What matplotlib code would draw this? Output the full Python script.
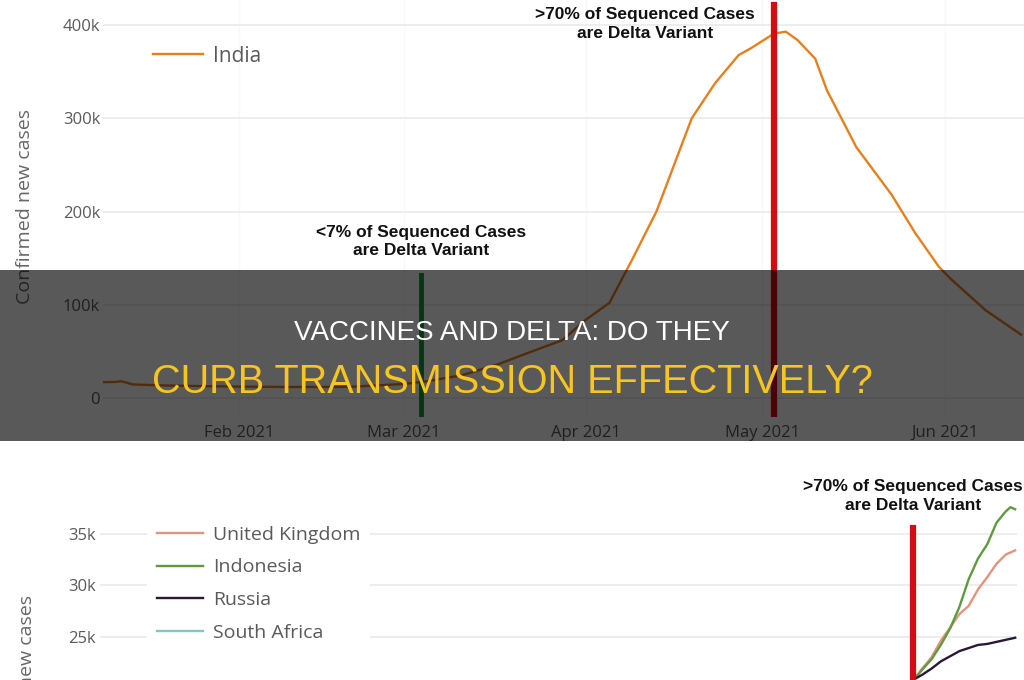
import matplotlib
matplotlib.use("Agg")
import matplotlib.pyplot as plt
import matplotlib.dates as mdates
from matplotlib.patches import Rectangle
import numpy as np

plt.rcParams['font.family'] = ['Open Sans', 'DejaVu Sans']

# India, confirmed new cases (7-day average)
india_dates = np.array([
    '2021-01-09', '2021-01-11', '2021-01-12', '2021-01-14', '2021-01-19',
    '2021-01-25', '2021-02-01', '2021-02-10', '2021-02-20', '2021-03-01',
    '2021-03-05', '2021-03-11', '2021-03-17', '2021-03-22', '2021-03-28',
    '2021-04-01', '2021-04-05', '2021-04-09', '2021-04-13', '2021-04-16',
    '2021-04-19', '2021-04-23', '2021-04-27', '2021-04-29', '2021-05-02',
    '2021-05-03', '2021-05-05', '2021-05-07', '2021-05-10', '2021-05-12',
    '2021-05-17', '2021-05-23', '2021-05-27', '2021-05-31', '2021-06-02',
    '2021-06-08', '2021-06-14'], dtype='datetime64[D]')
india_cases = [
    17000, 17200, 18000, 14500, 13500, 12800, 12200, 11800, 12000, 15000,
    18000, 24500, 36000, 48000, 62000, 84000, 102000, 150000, 200000, 250000,
    300000, 338000, 368000, 375000, 387000, 391000, 393000, 384000, 364000, 330000,
    269000, 218000, 177000, 141000, 128000, 94000, 68000]

low_delta_date = np.datetime64('2021-03-04')
high_delta_date = np.datetime64('2021-05-03')
month_ticks = np.array(['2021-02-01', '2021-03-01', '2021-04-01', '2021-05-01', '2021-06-01'],
                       dtype='datetime64[D]')

# second chart: days since delta passed 70% of sequenced cases
days = [0, 2, 4, 6, 8, 10, 12, 14, 16, 18, 20, 21, 22]
uk_cases = [20700, 21900, 23000, 24600, 25900, 27200, 28000, 29600, 30800, 32100, 33000, 33200, 33400]
indonesia_cases = [20700, 21800, 22800, 24200, 25800, 27900, 30600, 32600, 34000, 36100, 37200, 37600, 37400]
russia_cases = [20800, 21300, 21900, 22600, 23100, 23600, 23900, 24200, 24300, 24500, 24700, 24800, 24900]
south_africa_cases = []

W, H = 1024, 680


def px_rect(left, top, right, bottom):
    return [left / W, 1 - bottom / H, (right - left) / W, (bottom - top) / H]


fig = plt.figure(figsize=(W / 100, H / 100), dpi=100)
fig.patch.set_facecolor('white')

grey = '#5a5a5a'
note_font = dict(family=['Liberation Sans', 'DejaVu Sans'], weight='bold', fontsize=12.5,
                 color='#111111', ha='center', va='center', linespacing=1.3)

# ---- top chart: India
ax = fig.add_axes(px_rect(103, 0, 1024, 417))
feb1 = mdates.date2num(np.datetime64('2021-02-01'))
ax.set_xlim(feb1 - 23.1, feb1 + 133.5)
ax.set_ylim(-20400, 427000)

ax.plot(india_dates, india_cases, color='#e5801f', lw=1.7, label='India', zorder=3)
ax.axvline(low_delta_date, ymin=0, ymax=(132000 + 20400) / 447400, color='#139a3a', lw=3.5, zorder=4)
ax.axvline(high_delta_date, ymin=0, ymax=(422000 + 20400) / 447400, color='#d40d12', lw=4.5, zorder=4)

ax.text(low_delta_date, 168000, '<7% of Sequenced Cases\nare Delta Variant', **note_font)
ax.text(np.datetime64('2021-04-11'), 401000, '>70% of Sequenced Cases\nare Delta Variant', **note_font)

ax.set_yticks([0, 100000, 200000, 300000, 400000])
ax.set_yticklabels(['0', '100k', '200k', '300k', '400k'])
ax.set_xticks(month_ticks)
ax.xaxis.set_major_formatter(mdates.DateFormatter('%b %Y'))
ax.tick_params(length=0, labelsize=12, labelcolor=grey)
ax.tick_params(axis='y', pad=2)
ax.tick_params(axis='x', pad=6)
ax.grid(axis='y', color='#ececec', lw=1.3)
ax.grid(axis='x', color='#f8f8f8', lw=1)
ax.set_axisbelow(True)
for s in ax.spines.values():
    s.set_visible(False)

ax.legend(loc='center left', bbox_to_anchor=(143 / W, 1 - 56 / H), bbox_transform=fig.transFigure,
          frameon=False, fontsize=15, handlelength=2.4, handletextpad=0.45, borderpad=0,
          labelcolor=grey)
fig.text(25 / W, 1 - 206 / H, 'Confirmed new cases', rotation=90, ha='center', va='center',
         fontsize=14, color='#666666')

# ---- bottom chart: other countries
bx = fig.add_axes(px_rect(100, 500, 1017, 720))
bx.set_xlim(-175, 22.4)
bx.set_ylim(16900, 38300)
bx.plot(days, uk_cases, color='#e3947c', lw=1.7, label='United Kingdom', zorder=3)
bx.plot(days, indonesia_cases, color='#5f9a40', lw=1.7, label='Indonesia', zorder=3)
bx.plot(days, russia_cases, color='#2b1736', lw=1.7, label='Russia', zorder=3)
bx.plot(days[:len(south_africa_cases)], south_africa_cases, color='#7ccbbd', lw=1.7,
        label='South Africa', zorder=3)
bx.axvline(0, ymin=0, ymax=(35600 - 16900) / (38300 - 16900), color='#d40d12', lw=4.5, zorder=4)
bx.text(0, 38700, '>70% of Sequenced Cases\nare Delta Variant', **note_font)

bx.set_yticks([20000, 25000, 30000, 35000])
bx.set_yticklabels(['20k', '25k', '30k', '35k'])
bx.set_xticks([])
bx.tick_params(length=0, labelsize=12, labelcolor=grey, pad=3)
bx.grid(axis='y', color='#ececec', lw=1.3)
bx.set_axisbelow(True)
for s in bx.spines.values():
    s.set_visible(False)

leg = bx.legend(loc='upper left', bbox_to_anchor=(147 / W, 1 - 516 / H), bbox_transform=fig.transFigure,
                frameon=True, facecolor='white', edgecolor='none', framealpha=1, fontsize=14,
                handlelength=2.4, handletextpad=0.5, borderpad=0.5, labelspacing=0.76,
                labelcolor=grey, borderaxespad=0)
fig.text(27 / W, 1 - 692 / H, 'Confirmed new cases', rotation=90, ha='center', va='center',
         fontsize=14, color='#666666')

# ---- dark title band
fig.add_artist(Rectangle((0, 1 - 441 / H), 1, 171 / H, transform=fig.transFigure,
                         facecolor='black', alpha=0.65, edgecolor='none', zorder=10))
fig.text(0.5, 1 - 333 / H, 'VACCINES AND DELTA: DO THEY', ha='center', va='center',
         family=['Liberation Sans', 'DejaVu Sans'], fontsize=20, color='white', zorder=11)
fig.text(0.5, 1 - 382 / H, 'CURB TRANSMISSION EFFECTIVELY?', ha='center', va='center',
         family=['Liberation Sans', 'DejaVu Sans'], fontsize=28.5, color='#f7c520', zorder=11)

fig.savefig('out.png', dpi=100)
